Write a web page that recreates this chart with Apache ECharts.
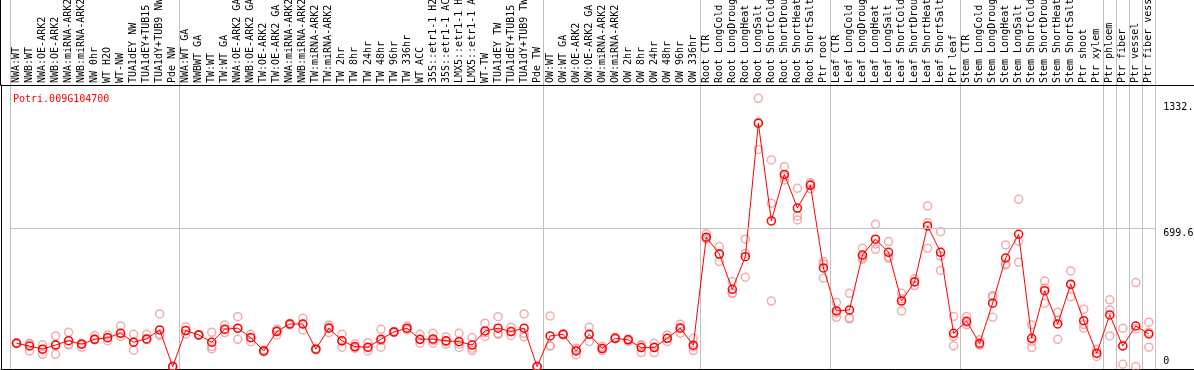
<!DOCTYPE html>
<html>
<head>
<meta charset="utf-8">
<script src="https://cdn.jsdelivr.net/npm/echarts@6/dist/echarts.min.js"></script>
<style>
html,body{margin:0;padding:0;background:#fff;}
#chart{width:1194px;height:370px;}
</style>
</head>
<body>
<div id="chart"></div>
<script>
var geneName = 'Potri.009G104700';

var groupNW = ['NWA:WT','NWB:WT','NWA:OE-ARK2','NWB:OE-ARK2','NWA:miRNA-ARK2','NWB:miRNA-ARK2','NW 0hr','WT H2O','WT-NW','TUA1dEY NW','TUA1dEY+TUB15 NW','TUA1dY+TUB9 NW','Pde NW'];
var groupTW = ['NWA:WT GA','NWBWT GA','TW:WT','TW:WT GA','NWA:OE-ARK2 GA','NWB:OE-ARK2 GA','TW:OE-ARK2','TW:OE-ARK2 GA','NWA:miRNA-ARK2 GA','NWB:miRNA-ARK2 GA','TW:miRNA-ARK2','TW:miRNA-ARK2 GA','TW 2hr','TW 8hr','TW 24hr','TW 48hr','TW 96hr','TW 336hr','WT ACC','35S::etr1-1 H2O','35S::etr1-1 ACC','LMX5::etr1-1 H2O','LMX5::etr1-1 ACC','WT-TW','TUA1dEY TW','TUA1dEY+TUB15 TW','TUA1dY+TUB9 TW','Pde TW'];
var groupOW = ['OW:WT','OW:WT GA','OW:OE-ARK2','OW:OE-ARK2 GA','OW:miRNA-ARK2','OW:miRNA-ARK2 GA','OW 2hr','OW 8hr','OW 24hr','OW 48hr','OW 96hr','OW 336hr'];
var groupRoot = ['Root CTR','Root LongCold','Root LongDrought','Root LongHeat','Root LongSalt','Root ShortCold','Root ShortDrought','Root ShortHeat','Root ShortSalt','Ptr root'];
var groupLeaf = ['Leaf CTR','Leaf LongCold','Leaf LongDrought','Leaf LongHeat','Leaf LongSalt','Leaf ShortCold','Leaf ShortDrought','Leaf ShortHeat','Leaf ShortSalt','Ptr leaf'];
var groupStem = ['Stem CTR','Stem LongCold','Stem LongDrought','Stem LongHeat','Stem LongSalt','Stem ShortCold','Stem ShortDrought','Stem ShortHeat','Stem ShortSalt','Ptr shoot','Ptr xylem'];
var groupPhloem = ['Ptr phloem'];
var groupFiber = ['Ptr fiber'];
var groupVessel = ['Ptr vessel'];
var groupFiberVessel = ['Ptr fiber vessel'];

var groups = [groupNW, groupTW, groupOW, groupRoot, groupLeaf, groupStem, groupPhloem, groupFiber, groupVessel, groupFiberVessel];

var meanValues = [
  118,104,88,109,131,113,138,146,168,123,140,185,0,
  182,160,123,189,194,146,79,177,215,215,88,194,130,101,98,138,175,194,138,139,130,126,109,180,194,177,194,0,
  155,163,79,163,91,143,135,96,96,143,194,108,
  653,568,390,555,1228,735,970,800,915,498,
  281,286,563,643,577,331,427,710,577,168,
  229,118,320,548,668,143,383,215,416,232,68,
  261,104,205,165
];
var rep1 = [
  120,115,110,155,173,113,157,160,205,163,163,266,0,
  200,160,173,210,252,163,74,160,219,244,88,210,163,115,121,188,175,205,163,168,150,168,147,219,252,199,266,0,
  256,163,59,199,81,148,127,110,118,160,214,143,
  670,606,429,643,1354,1043,1009,900,928,530,
  323,370,597,718,631,370,443,811,681,253,
  253,135,353,614,844,211,432,274,483,290,88,
  337,194,424,224
];
var rep2 = [
  116,79,62,62,110,98,135,131,152,83,135,163,0,
  182,158,101,172,138,126,82,189,210,185,85,172,98,93,79,98,172,185,118,118,126,113,93,152,163,157,168,0,
  104,165,85,127,91,140,140,71,71,127,169,81,
  645,530,370,451,1096,824,959,760,920,446,
  249,241,542,592,547,281,409,727,558,152,
  211,110,249,513,527,127,320,138,353,194,51,
  286,12,0,98
];
var rep3 = [
  118,118,88,110,112,118,140,146,168,123,140,157,0,
  165,162,89,186,192,148,80,182,215,215,92,200,130,96,95,130,178,192,135,132,113,97,81,170,168,176,150,0,
  105,160,93,163,101,141,138,107,99,142,199,100,
  644,568,371,571,1234,331,942,740,897,518,
  271,247,550,619,553,342,429,597,485,105,
  222,109,358,518,633,96,397,233,412,212,65,
  155,106,191,173
];

var yTickValues = [0, 699.6, 1332];
var yTickLabels = ['0', '699.6', '1332.'];
var midGridValue = 699.6;

var categories = [];
var groupStarts = [];
groups.forEach(function (g) { groupStarts.push(categories.length); categories = categories.concat(g); });

var FONT = 'DejaVu Sans Mono';
var sepColor = '#c0c0c0';
var repColor = '#ee9999';
var frameLine = {show: true, lineStyle: {color: '#000', width: 1}};

function splitFn(index) { return groupStarts.indexOf(index) >= 0; }

var chart = echarts.init(document.getElementById('chart'), null, {renderer: 'canvas'});
var repSeries = [rep1, rep2, rep3].map(function (r) {
  return {
    type: 'scatter', xAxisIndex: 0, yAxisIndex: 0, data: r,
    symbol: 'circle', symbolSize: 8, silent: true, z: 2,
    itemStyle: {color: 'rgba(0,0,0,0)', borderColor: repColor, borderWidth: 1.5}
  };
});

function hiddenAxis(gridIndex, extra) {
  var a = {type: 'value', gridIndex: gridIndex, min: 0, max: 1,
    axisLine: {show: false}, axisTick: {show: false}, axisLabel: {show: false}, splitLine: {show: false}};
  for (var k in extra) a[k] = extra[k];
  return a;
}

chart.setOption({
  animation: false,
  backgroundColor: '#fff',
  title: {
    text: geneName, left: 8, top: 89,
    textStyle: {color: '#ff0000', fontSize: 10, fontFamily: FONT, fontWeight: 'normal'}
  },
  grid: [
    {left: 10, right: 38.7, top: 85, bottom: 1, show: false, outerBoundsMode: 'none', containLabel: false},
    {left: 10, right: 38.7, top: 0, height: 85, show: false, outerBoundsMode: 'none', containLabel: false},
    {left: 1, right: 0, top: 85, bottom: 1, show: false, outerBoundsMode: 'none', containLabel: false},
    {left: 0, right: 3.3, top: 0, height: 85, show: false, outerBoundsMode: 'none', containLabel: false}
  ],
  xAxis: [
    {
      type: 'category', gridIndex: 0, data: categories, position: 'top',
      boundaryGap: true,
      axisLine: {show: false}, axisTick: {show: false},
      axisLabel: {rotate: 90, interval: 0, margin: 2, color: '#000', fontSize: 10, fontFamily: FONT, hideOverlap: false},
      splitLine: {show: true, interval: splitFn, lineStyle: {color: sepColor, width: 1}}
    },
    {
      type: 'category', gridIndex: 1, data: categories, boundaryGap: true,
      axisLine: {show: false}, axisTick: {show: false}, axisLabel: {show: false},
      splitLine: {show: true, interval: splitFn, lineStyle: {color: sepColor, width: 1}}
    },
    hiddenAxis(2, {position: 'bottom', axisLine: frameLine}),
    hiddenAxis(2, {position: 'top', axisLine: frameLine}),
    hiddenAxis(3, {})
  ],
  yAxis: [
    {
      type: 'value', gridIndex: 0, position: 'right', min: -12, max: 1421,
      axisLine: {show: false}, axisTick: {show: false}, splitLine: {show: false},
      axisLabel: {
        customValues: yTickValues, margin: 8, color: '#000', fontSize: 10, fontFamily: FONT,
        align: 'left', verticalAlign: 'top', verticalAlignMinLabel: 'bottom',
        formatter: function (v) { var i = yTickValues.indexOf(v); return i >= 0 ? yTickLabels[i] : ''; }
      }
    },
    hiddenAxis(1, {}),
    hiddenAxis(2, {position: 'left', axisLine: frameLine}),
    hiddenAxis(3, {position: 'right', axisLine: frameLine})
  ],
  series: repSeries.concat([{
    type: 'line', xAxisIndex: 0, yAxisIndex: 0, data: meanValues,
    symbol: 'circle', symbolSize: 8, showSymbol: true, silent: true, z: 3,
    lineStyle: {color: '#ff0000', width: 1},
    itemStyle: {color: 'rgba(0,0,0,0)', borderColor: '#ff0000', borderWidth: 1.5},
    markLine: {
      silent: true, symbol: 'none', label: {show: false},
      lineStyle: {color: sepColor, type: 'solid', width: 1},
      data: [{yAxis: midGridValue}]
    }
  }])
});
</script>
</body>
</html>
